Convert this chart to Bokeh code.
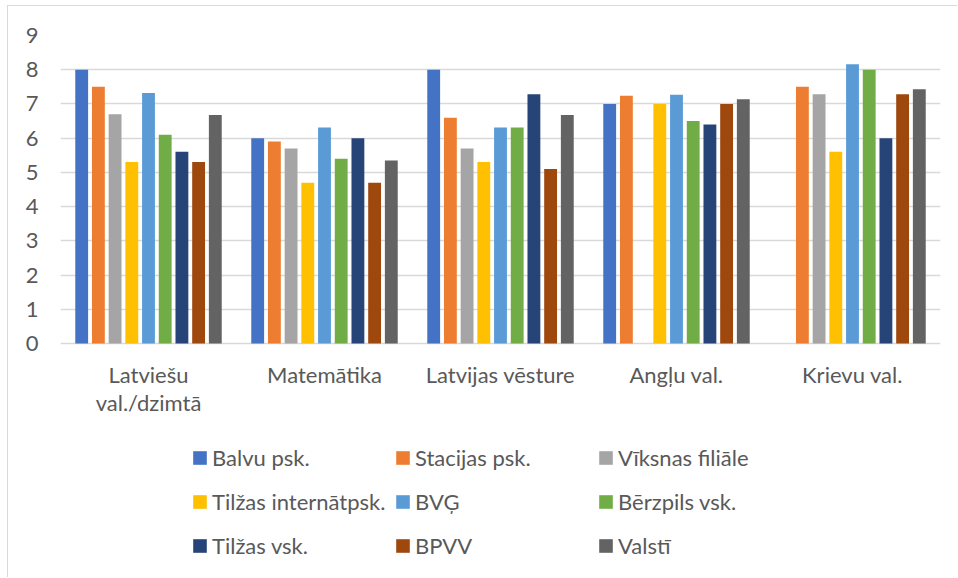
from bokeh.plotting import figure
from bokeh.models import FactorRange, Range1d, FixedTicker, Legend, LegendItem
from bokeh.core.properties import value
from bokeh.transform import dodge
from bokeh.embed import file_html
from bokeh.resources import INLINE

nan = float("nan")

categories = ["Latviešu val./dzimtā", "Matemātika", "Latvijas vēsture", "Angļu val.", "Krievu val."]
label_line1 = ["Latviešu", "Matemātika", "Latvijas vēsture", "Angļu val.", "Krievu val."]
label_line2 = ["val./dzimtā", "", "", "", ""]
y_ticks = [0, 1, 2, 3, 4, 5, 6, 7, 8, 9]
series_names = ["Balvu psk.", "Stacijas psk.", "Vīksnas filiāle", "Tilžas internātpsk.", "BVĢ",
                "Bērzpils vsk.", "Tilžas vsk.", "BPVV", "Valstī"]
balvu = [8.0, 6.0, 8.0, 7.0, nan]
stacijas = [7.5, 5.9, 6.6, 7.24, 7.5]
viksnas = [6.7, 5.7, 5.7, nan, 7.28]
tilzas_int = [5.3, 4.7, 5.3, 7.0, 5.6]
bvg = [7.32, 6.31, 6.31, 7.27, 8.16]
berzpils = [6.1, 5.4, 6.31, 6.5, 8.0]
tilzas_vsk = [5.6, 6.0, 7.28, 6.4, 6.0]
bpvv = [5.3, 4.7, 5.1, 7.0, 7.28]
valsti = [6.68, 5.35, 6.68, 7.14, 7.43]
series_values = [balvu, stacijas, viksnas, tilzas_int, bvg, berzpils, tilzas_vsk, bpvv, valsti]
colors = ["#4472C4", "#ED7D31", "#A5A5A5", "#FFC000", "#5B9BD5",
          "#70AD47", "#264478", "#9E480E", "#636363"]

FONT = "Lato"
TXT = "#595959"
GRID = "#d9d9d9"
FS = "22px"

# layout: value axis 0..9 spans 308 px; the frame continues below for labels + legend
W, H = 950, 572
TOP = 29
AXIS_PX = 308.0
px_per_unit = AXIS_PX / 9
frame_h = H - TOP
y_start = 9 - frame_h / px_per_unit

p = figure(x_range=FactorRange(*categories), y_range=Range1d(y_start, 9),
           width=W, height=H, output_backend="svg", toolbar_location=None,
           x_axis_location=None,
           min_border_left=52, min_border_right=18, min_border_top=TOP, min_border_bottom=0)
p.outline_line_color = None
p.styles = {"margin-left": "7px", "margin-top": "5px",
            "border-top": "1px solid #d9d9d9", "border-left": "1px solid #d9d9d9"}

data = {"cat": categories, "l1": label_line1, "l2": label_line2}
for i, vals in enumerate(series_values):
    data[f"s{i}"] = vals

pitch = 0.0949
bar_w = 0.073
renderers = []
for i, (name, col) in enumerate(zip(series_names, colors)):
    r = p.vbar(x=dodge("cat", (i - 4) * pitch, range=p.x_range), top=f"s{i}", width=bar_w,
               source=data, fill_color=col, line_color=None)
    renderers.append(r)

# y axis
p.yaxis.ticker = FixedTicker(ticks=y_ticks)
p.yaxis.axis_line_color = None
p.yaxis.major_tick_line_color = None
p.yaxis.minor_tick_line_color = None
p.yaxis.major_tick_out = 0
p.yaxis.major_label_standoff = 22
p.yaxis.major_label_text_font = FONT
p.yaxis.major_label_text_font_size = FS
p.yaxis.major_label_text_color = TXT

p.xgrid.grid_line_color = None
p.ygrid.grid_line_color = GRID
p.ygrid.grid_line_width = 1.5

# category labels (two lines) under the value-axis baseline
for col, off_px in (("l1", 31.0), ("l2", 59.0)):
    p.text(x="cat", y=-off_px / px_per_unit, text=col, source=data,
           text_align="center", text_baseline="alphabetic",
           text_font=value(FONT), text_font_size=value(FS), text_color=TXT)

items = [LegendItem(label=n, renderers=[r]) for n, r in zip(series_names, renderers)]
legend = Legend(items=items, orientation="horizontal", ncols=3,
                location=(131, 11), padding=0, margin=0, spacing=0,
                glyph_width=17, glyph_height=17, label_standoff=4, label_width=182,
                label_height=44, border_line_color=None, background_fill_alpha=0,
                label_text_font=FONT, label_text_font_size=FS, label_text_color=TXT)
p.add_layout(legend, "center")

open("out.html", "w").write(file_html(p, INLINE))
